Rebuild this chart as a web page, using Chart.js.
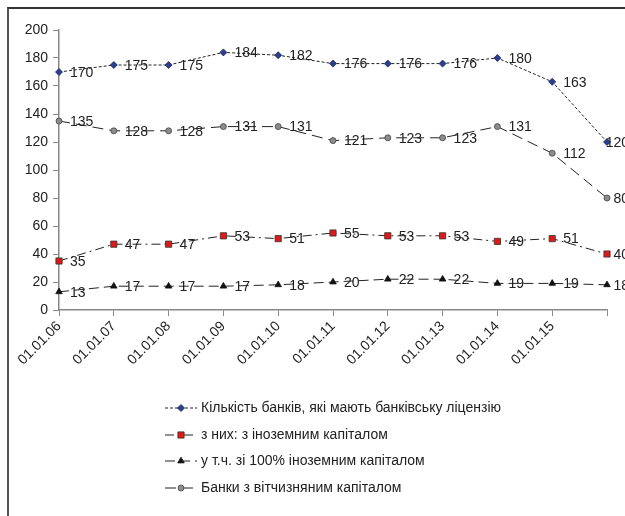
<!DOCTYPE html>
<html>
<head>
<meta charset="utf-8">
<script src="https://cdn.jsdelivr.net/npm/chart.js@4.4.0/dist/chart.umd.min.js"></script>
<style>
  html, body { margin: 0; padding: 0; background: #fff; overflow: hidden; }
  #wrap { position: relative; width: 625px; height: 516px; overflow: hidden; }
  #frame { position: absolute; left: 7px; top: 7px; width: 640px; height: 530px;
           border-top: 2px solid #333; border-left: 2px solid #555; }
  canvas { position: absolute; left: 0; top: 0; }
</style>
</head>
<body>
<div id="wrap">
  <div id="frame"></div>
  <canvas id="banksChart" width="625" height="516"></canvas>
</div>
<script>
// data
const categories = ['01.01.06', '01.01.07', '01.01.08', '01.01.09', '01.01.10', '01.01.11',
                    '01.01.12', '01.01.13', '01.01.14', '01.01.15', '01.01.16']
// last tick has no label in the original
const tickLabels = ['01.01.06', '01.01.07', '01.01.08', '01.01.09', '01.01.10', '01.01.11',
                    '01.01.12', '01.01.13', '01.01.14', '01.01.15', '']

const licensed = [170, 175, 175, 184, 182, 176, 176, 176, 180, 163, 120]
const foreign = [35, 47, 47, 53, 51, 55, 53, 53, 49, 51, 40]
const foreign100 = [13, 17, 17, 17, 18, 20, 22, 22, 19, 19, 18]
const domestic = [135, 128, 128, 131, 131, 121, 123, 123, 131, 112, 80]

const seriesNames = [
  'Кількість банків, які мають банківську ліцензію',
  'з них: з іноземним капіталом',
  'у т.ч. зі 100% іноземним капіталом',
  'Банки з вітчизняним капіталом'
]

const FONT = '"Liberation Sans", Arial, sans-serif'

// value labels to the right of each point (pushed back inside near the right edge)
const valueLabels = {
  id: 'valueLabels',
  afterDatasetsDraw(chart) {
    const ctx = chart.ctx
    ctx.save()
    ctx.font = '14px ' + FONT
    ctx.fillStyle = '#222'
    ctx.textAlign = 'left'
    ctx.textBaseline = 'middle'
    chart.data.datasets.forEach((ds, i) => {
      chart.getDatasetMeta(i).data.forEach((pt, j) => {
        const txt = String(ds.data[j])
        const w = ctx.measureText(txt).width
        const x = Math.min(pt.x + 11, 629 - w)
        ctx.fillText(txt, x, pt.y + 1)
      })
    })
    ctx.restore()
  }
}

// legend as a vertical list under the chart
const listLegend = {
  id: 'listLegend',
  afterDraw(chart) {
    const ctx = chart.ctx
    const rowsY = [408, 435, 461, 488]
    ctx.save()
    chart.data.datasets.forEach((ds, i) => {
      const y = rowsY[i]
      ctx.strokeStyle = ds.borderColor
      ctx.lineWidth = 1
      ctx.setLineDash(ds.borderDash)
      ctx.beginPath()
      ctx.moveTo(165, y)
      ctx.lineTo(197, y)
      ctx.stroke()
      ctx.setLineDash([])
      ctx.fillStyle = ds.pointBackgroundColor
      ctx.strokeStyle = ds.pointBorderColor
      ctx.lineWidth = 0.8
      Chart.helpers.drawPoint(ctx, { pointStyle: ds.pointStyle, radius: ds.pointRadius, rotation: 0, borderWidth: 0.8 }, 181, y)
      ctx.fillStyle = '#222'
      ctx.font = '14px ' + FONT
      ctx.textAlign = 'left'
      ctx.textBaseline = 'middle'
      ctx.fillText(ds.label, 201, y)
    })
    ctx.restore()
  }
}

const data = {
  labels: categories,
  datasets: [{
    label: seriesNames[0],
    data: licensed,
    borderColor: '#222',
    borderWidth: 1,
    borderDash: [3, 2],
    pointStyle: 'rectRot',
    pointRadius: 3.5,
    pointBackgroundColor: '#2b3f8f',
    pointBorderColor: '#1a2456',
    pointBorderWidth: 0.8
  }, {
    label: seriesNames[1],
    data: foreign,
    borderColor: '#222',
    borderWidth: 1,
    borderDash: [9, 4, 2, 4],
    pointStyle: 'rect',
    pointRadius: 4.4,
    pointBackgroundColor: '#e01818',
    pointBorderColor: '#333',
    pointBorderWidth: 0.8
  }, {
    label: seriesNames[2],
    data: foreign100,
    borderColor: '#222',
    borderWidth: 1,
    borderDash: [10, 5],
    pointStyle: 'triangle',
    pointRadius: 3.8,
    pointBackgroundColor: '#111',
    pointBorderColor: '#111',
    pointBorderWidth: 0.8
  }, {
    label: seriesNames[3],
    data: domestic,
    borderColor: '#222',
    borderWidth: 1,
    borderDash: [11, 6],
    pointStyle: 'circle',
    pointRadius: 3,
    pointBackgroundColor: '#8c8c8c',
    pointBorderColor: '#444',
    pointBorderWidth: 0.8
  }]
}

const config = {
  type: 'line',
  data: data,
  options: {
    responsive: false,
    animation: false,
    layout: { padding: { top: 30, right: 18, left: 0, bottom: 0 } },
    plugins: {
      legend: { display: false },
      tooltip: { enabled: false }
    },
    scales: {
      x: {
        offset: false,
        grid: { drawOnChartArea: false, tickLength: 6, color: '#888', offset: false },
        border: { color: '#888', width: 1.5 },
        ticks: {
          autoSkip: false,
          minRotation: 45,
          maxRotation: 45,
          padding: 2,
          color: '#222',
          font: { size: 14, family: FONT },
          callback: (value, index) => tickLabels[index]
        },
        afterFit: scale => { scale.height = 206 }
      },
      y: {
        min: 0,
        max: 200,
        grid: { drawOnChartArea: false, tickLength: 6, color: '#888' },
        border: { color: '#888', width: 1.5 },
        ticks: {
          stepSize: 20,
          padding: 5,
          color: '#222',
          font: { size: 14, family: FONT }
        },
        afterFit: scale => { scale.width = 59 }
      }
    }
  },
  plugins: [valueLabels, listLegend]
}

const banksChart = new Chart(document.getElementById('banksChart'), config)
</script>
</body>
</html>
